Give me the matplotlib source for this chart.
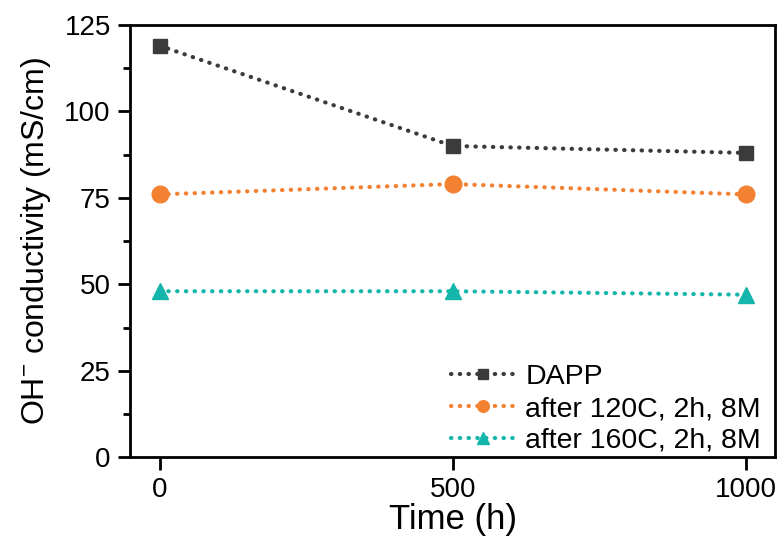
import matplotlib
matplotlib.use("Agg")
import matplotlib.pyplot as plt
from matplotlib.ticker import MultipleLocator

plt.rcParams['font.family'] = ['Liberation Sans', 'DejaVu Sans']
plt.rcParams['mathtext.fontset'] = 'custom'
plt.rcParams['mathtext.rm'] = 'Liberation Sans'
plt.rcParams['mathtext.default'] = 'regular'

# data
time_h = [0, 500, 1000]
dapp = [119, 90, 88]
after_120 = [76, 79, 76]
after_160 = [48, 48, 47]

labels = ['DAPP', 'after 120C, 2h, 8M', 'after 160C, 2h, 8M']
colors = ['#3b3b3b', '#f28131', '#14b5aa']
markers = ['s', 'o', '^']
msizes = [10, 12, 12]

fig = plt.figure(figsize=(7.8, 5.43), dpi=100)
ax = fig.add_axes([0.167, 0.158, 0.827, 0.796])

for y, lab, c, m, ms in zip([dapp, after_120, after_160], labels, colors, markers, msizes):
    ax.plot(time_h, y, linestyle=(0, (0.1, 2.0)), dash_capstyle='round',
            linewidth=3, color=c, marker=m, markersize=ms, label=lab)

ax.set_xlim(-50, 1050)
ax.set_ylim(0, 125)
ax.xaxis.set_major_locator(MultipleLocator(500))
ax.yaxis.set_major_locator(MultipleLocator(25))
ax.yaxis.set_minor_locator(MultipleLocator(12.5))

for s in ax.spines.values():
    s.set_linewidth(2)
ax.tick_params(which='major', direction='out', length=9, width=2, labelsize=20, pad=5)
ax.tick_params(which='minor', direction='out', length=5, width=2)

ax.set_xlabel('Time (h)', fontsize=25, labelpad=0)
ax.set_ylabel(r'OH$^{-}$ conductivity (mS/cm)', fontsize=23, labelpad=8)

ax.legend(loc='lower right', bbox_to_anchor=(1.0, -0.025), frameon=False,
          fontsize=20.5, handlelength=2.2, handletextpad=0.4, labelspacing=0.2,
          borderaxespad=0.1, markerscale=0.7)

fig.savefig('out.png', dpi=100)
